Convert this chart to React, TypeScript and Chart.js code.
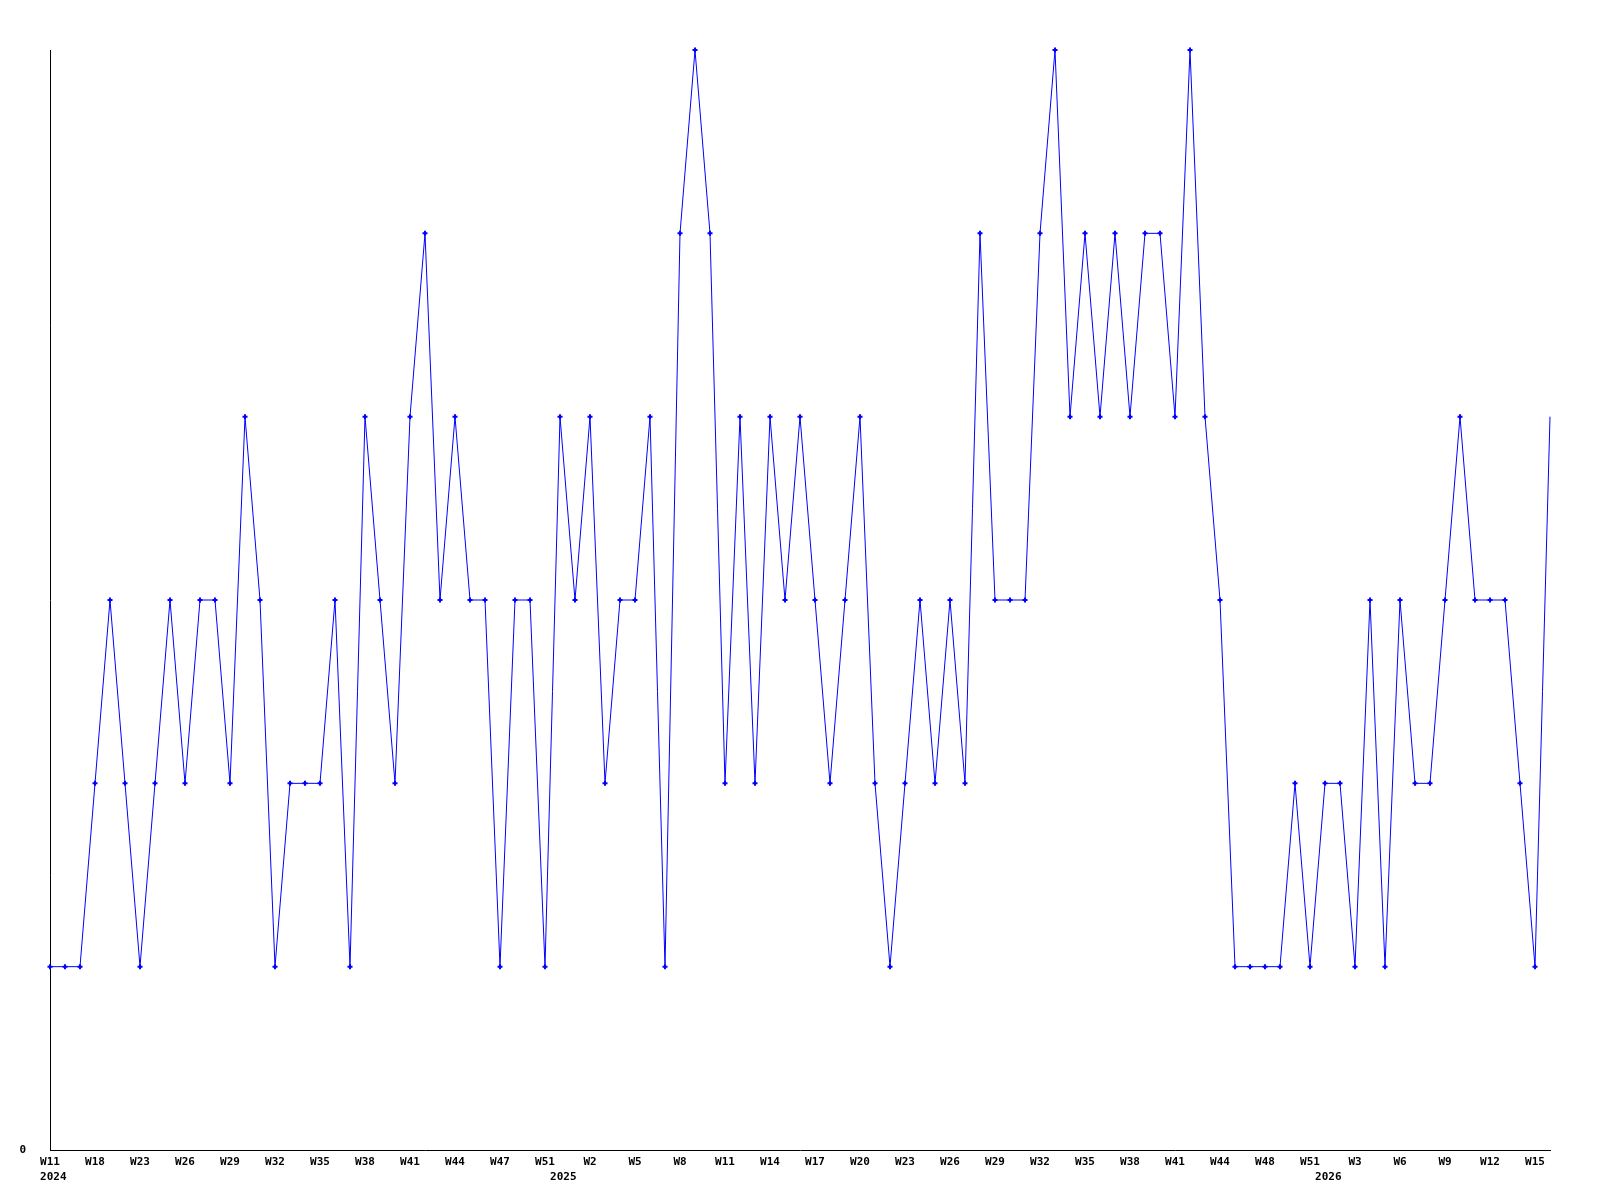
import React, { useEffect, useRef } from "react";
import { Chart, registerables } from "chart.js";

Chart.register(...registerables);

const weeks: string[] = [
  "W11", "W14", "W16", "W18", "W20", "W21", "W23", "W24", "W25", "W26",
  "W27", "W28", "W29", "W30", "W31", "W32", "W33", "W34", "W35", "W36",
  "W37", "W38", "W39", "W40", "W41", "W42", "W43", "W44", "W45", "W46",
  "W47", "W49", "W50", "W51", "W52", "W1", "W2", "W3", "W4", "W5",
  "W6", "W7", "W8", "W9", "W10", "W11", "W12", "W13", "W14", "W15",
  "W16", "W17", "W18", "W19", "W20", "W21", "W22", "W23", "W24", "W25",
  "W26", "W27", "W28", "W29", "W30", "W31", "W32", "W33", "W34", "W35",
  "W36", "W37", "W38", "W39", "W40", "W41", "W42", "W43", "W44", "W45",
  "W47", "W48", "W49", "W50", "W51", "W52", "W1", "W3", "W4", "W5",
  "W6", "W7", "W8", "W9", "W10", "W11", "W12", "W13", "W14", "W15",
  "W16",
];

const counts: number[] = [
  1, 1, 1, 2, 3, 2, 1, 2, 3, 2,
  3, 3, 2, 4, 3, 1, 2, 2, 2, 3,
  1, 4, 3, 2, 4, 5, 3, 4, 3, 3,
  1, 3, 3, 1, 4, 3, 4, 2, 3, 3,
  4, 1, 5, 6, 5, 2, 4, 2, 4, 3,
  4, 3, 2, 3, 4, 2, 1, 2, 3, 2,
  3, 2, 5, 3, 3, 3, 5, 6, 4, 5,
  4, 5, 4, 5, 5, 4, 6, 4, 3, 1,
  1, 1, 1, 2, 1, 2, 2, 1, 3, 1,
  3, 2, 2, 3, 4, 3, 3, 3, 2, 1,
  4,
];

const yearLabels: string[] = ["2024", "2025", "2026"];
const yearTickIndex: number[] = [0, 34, 85];
const labelEvery = 3;
const yMax = 6;

export default function App() {
  const ref = useRef<HTMLCanvasElement | null>(null);

  useEffect(() => {
    document.body.style.margin = "0";
    const canvas = ref.current;
    if (!canvas) return;
    const chart = new Chart(canvas, {
      type: "line",
      data: {
        labels: weeks,
        datasets: [
          {
            data: counts,
            borderColor: "#0000ff",
            backgroundColor: "#0000ff",
            borderWidth: 1,
            pointStyle: "cross",
            pointRadius: (ctx: any) => (ctx.dataIndex === counts.length - 1 ? 0 : 2.5),
            pointBorderWidth: 2,
            pointBorderColor: "#0000ff",
            tension: 0,
            fill: false,
            clip: false,
          },
        ],
      },
      options: {
        responsive: false,
        animation: false,
        layout: { padding: { top: 50, right: 50, left: 0, bottom: 0 } },
        plugins: {
          legend: { display: false },
          tooltip: { enabled: false },
        },
        scales: {
          x: {
            type: "category",
            offset: false,
            grid: { display: false, drawTicks: false },
            border: { display: true, color: "#000000", width: 1 },
            ticks: {
              autoSkip: false,
              maxRotation: 0,
              minRotation: 0,
              padding: 5,
              color: "#000000",
              font: { family: "'DejaVu Sans Mono', monospace", size: 11, weight: "bold", lineHeight: "15px" },
              callback: (_v: any, index: number) => {
                const yi = yearTickIndex.indexOf(index);
                const wk = index % labelEvery === 0 ? weeks[index] : "";
                if (yi >= 0) return [wk, " " + yearLabels[yi]];
                return wk;
              },
            },
            afterFit: (axis: any) => {
              axis.height = 50;
            },
          },
          y: {
            min: 0,
            max: yMax,
            grid: { display: false, drawTicks: false },
            border: { display: true, color: "#000000", width: 1 },
            afterBuildTicks: (axis: any) => {
              axis.ticks = [{ value: 0 }];
            },
            ticks: {
              padding: 24,
              color: "#000000",
              font: { family: "'DejaVu Sans Mono', monospace", size: 11, weight: "bold" },
              callback: (v: any) => (v === 0 ? "0" : ""),
            },
            afterFit: (axis: any) => {
              axis.width = 50;
            },
          },
        },
      },
    });
    return () => chart.destroy();
  }, []);

  return (
    <div style={{ width: 1600, height: 1200, background: "#ffffff" }}>
      <canvas ref={ref} width={1600} height={1200} style={{ display: "block" }} />
    </div>
  );
}
